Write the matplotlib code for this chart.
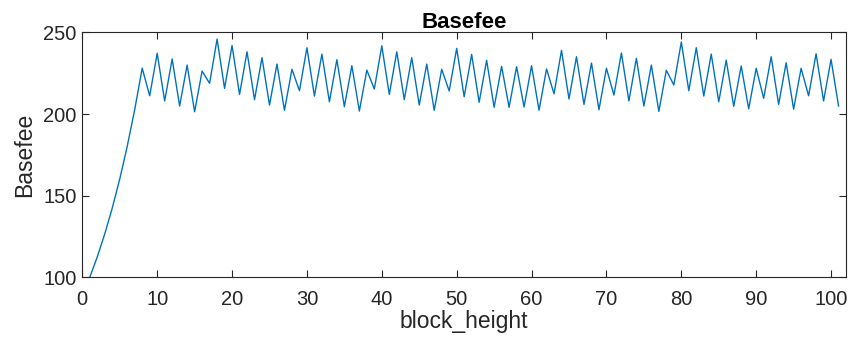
import numpy as np
import matplotlib
matplotlib.use("Agg")
import matplotlib.pyplot as plt

# block heights 1..101 and basefee values
block_height = list(range(1, 102))
basefee = [
    100, 112.5, 126.6, 142.4, 160.2, 180.2, 202.7, 228.1, 211.2, 237.2,
    208.0, 233.7, 204.9, 230.0, 201.4, 226.3, 218.8, 245.9, 215.7, 242.0,
    212.0, 238.1, 208.8, 234.5, 205.5, 230.6, 202.3, 227.4, 214.3, 240.6,
    211.0, 236.7, 207.5, 233.3, 204.5, 229.6, 201.8, 226.9, 215.3, 241.8,
    212.0, 238.1, 208.8, 234.5, 205.5, 230.6, 202.3, 227.4, 214.1, 240.2,
    210.6, 236.5, 207.2, 232.9, 204.1, 229.2, 204.1, 229.0, 204.3, 229.6,
    202.3, 227.6, 212.4, 239.0, 209.2, 235.1, 205.9, 231.2, 202.6, 228.0,
    211.6, 237.4, 208.0, 234.1, 204.9, 230.0, 201.6, 226.8, 217.8, 244.1,
    214.3, 240.6, 211.0, 236.7, 207.5, 233.0, 204.7, 229.4, 203.2, 228.0,
    209.6, 235.1, 205.9, 231.4, 203.0, 228.0, 211.2, 236.9, 208.0, 233.5,
    204.9,
]

xticks = list(range(0, 101, 10))
yticks = [100, 150, 200, 250]

plt.rcParams['font.family'] = ['Liberation Sans', 'DejaVu Sans']

fig = plt.figure(figsize=(8.52, 3.41), dpi=100)
ax = fig.add_axes([0.0966, 0.1868, 0.8964, 0.7182])

ax.plot(block_height, basefee, color='#0072BD', linewidth=1.0)

ax.set_xlim(0, 102)
ax.set_ylim(100, 250)
ax.set_xticks(xticks)
ax.set_yticks(yticks)

ax.tick_params(direction='in', top=True, right=True, length=5, width=0.8,
               color='#262626', labelsize=14.5, labelcolor='#262626')
ax.tick_params(axis='x', pad=9)
ax.tick_params(axis='y', pad=4)
for s in ax.spines.values():
    s.set_color('#262626')
    s.set_linewidth(0.8)

ax.set_xlabel('block_height', fontsize=16.5, color='#262626', labelpad=1)
ax.set_ylabel('Basefee', fontsize=16.5, color='#262626', labelpad=5)
ax.set_title('Basefee', fontsize=16, fontweight='bold', pad=3)

fig.savefig('out.png', dpi=100)
